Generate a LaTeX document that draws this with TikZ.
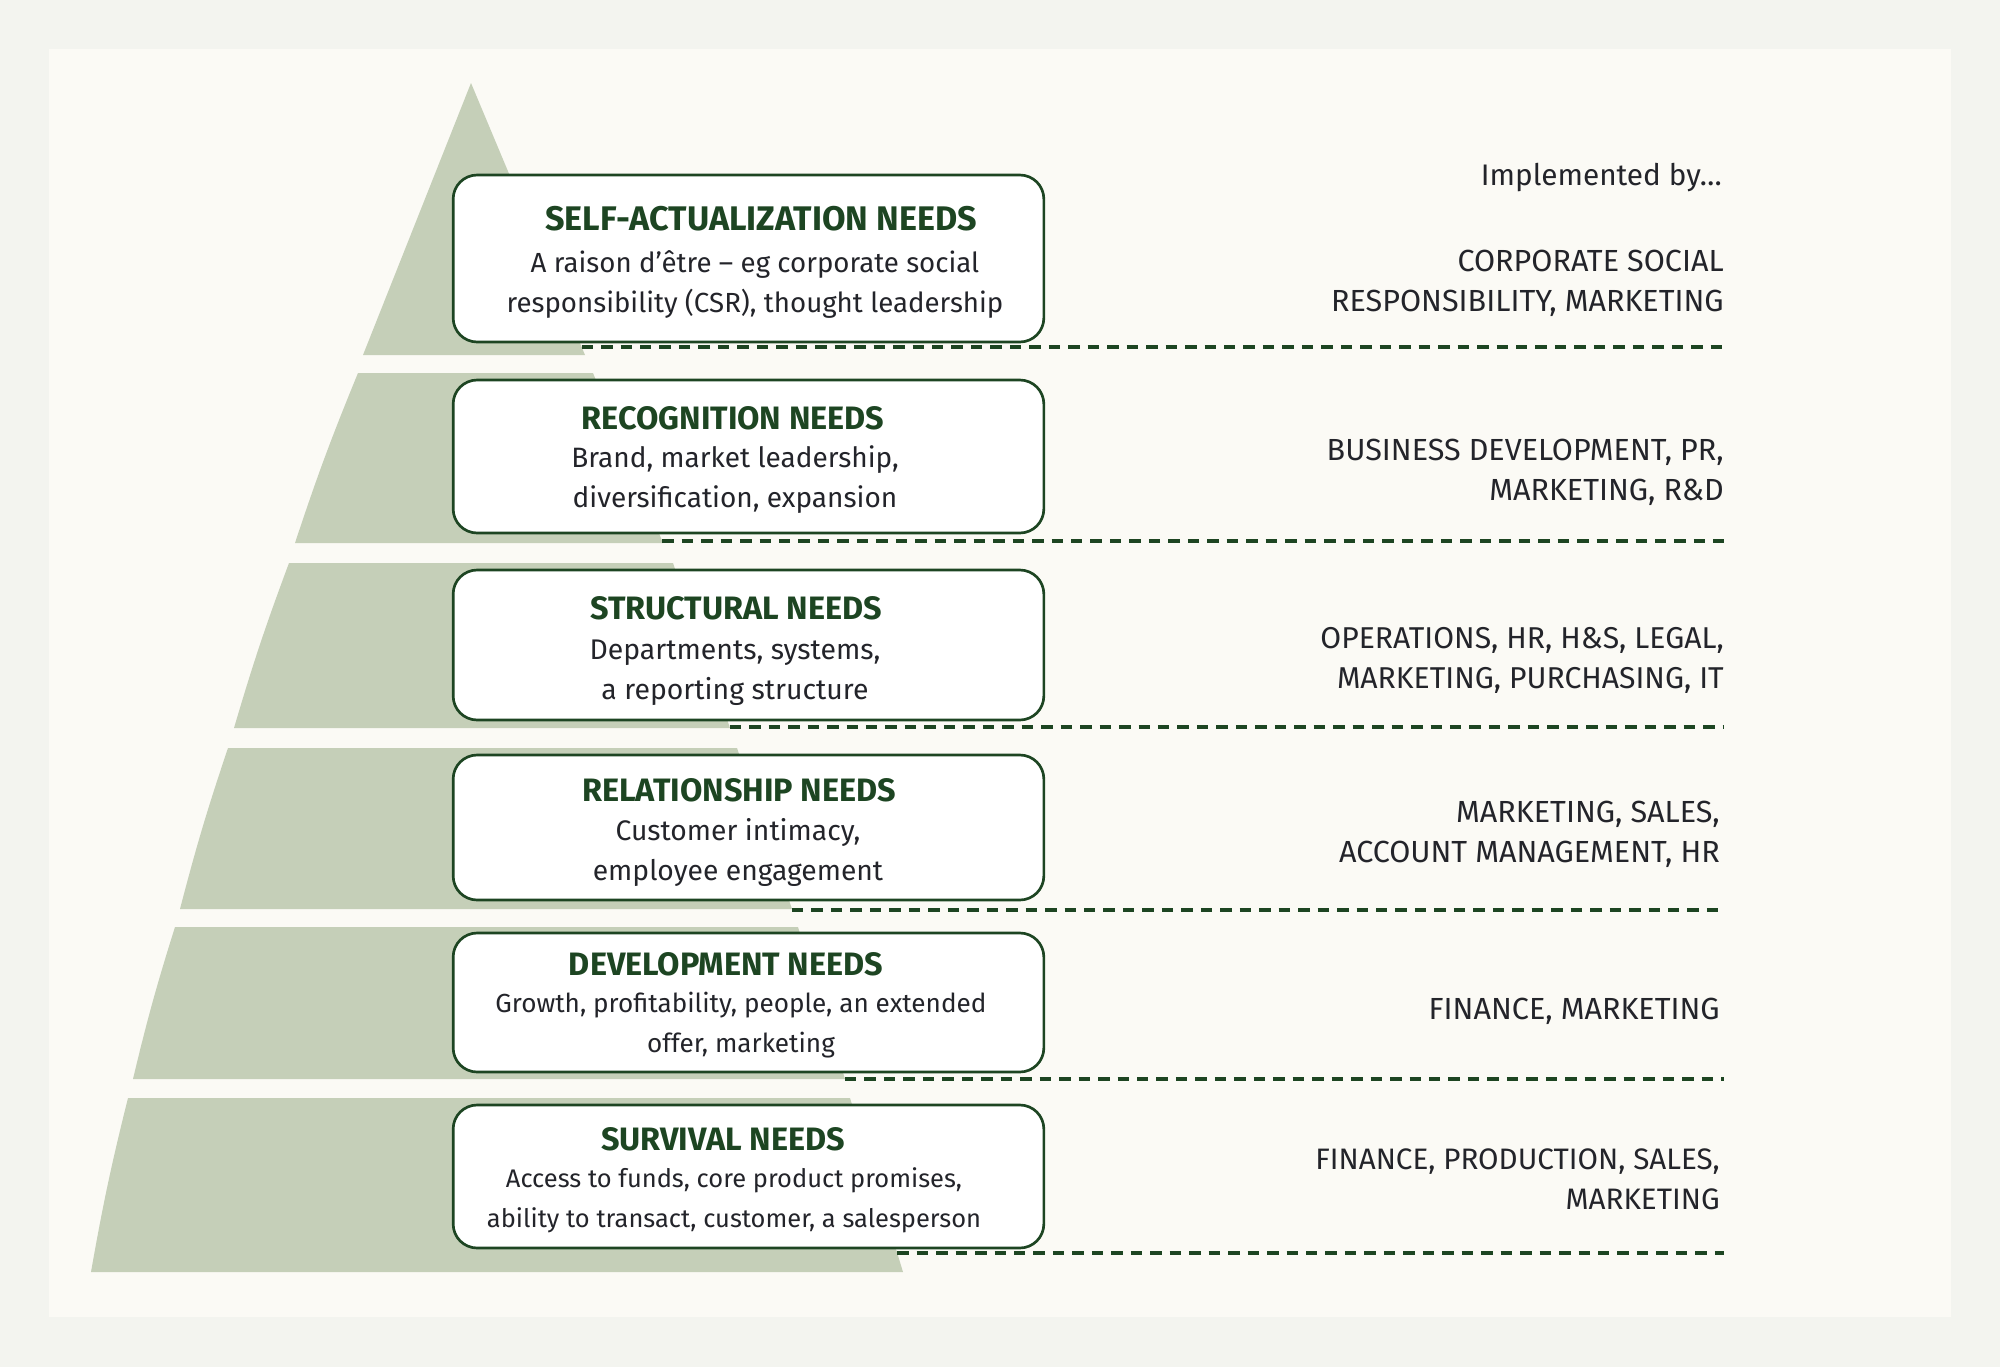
\documentclass[tikz,border=0pt]{standalone}
\usepackage{fontspec}
\setmainfont{Fira Sans}
\definecolor{outerbg}{HTML}{F3F4EF}
\definecolor{panelbg}{HTML}{FBFAF5}
\definecolor{layerfill}{HTML}{C5CFB8}
\definecolor{needgreen}{HTML}{1D4522}
\definecolor{bodyink}{HTML}{23242A}
\tikzset{
  layer/.style={fill=layerfill},
  guide/.style={draw=needgreen, line width=2.7pt, dash pattern=on 8.6pt off 6pt},
  needbox/.style={draw=needgreen, line width=2pt, fill=white, rounded corners=18pt,
    minimum width=443pt, inner sep=0pt},
  needtitle/.style={anchor=base, inner sep=0pt, text=needgreen,
    font=\bfseries\fontsize{#1}{28pt}\selectfont},
  needtitle/.default=24.3pt,
  needtext/.style={align=center, inner sep=0pt, text=bodyink,
    font=\fontsize{#1}{30pt}\selectfont},
  headnote/.style={anchor=base east, inner sep=0pt, text=bodyink,
    font=\fontsize{22.3pt}{30pt}\selectfont},
  implby/.style={align=right, anchor=east, inner sep=0pt, text=bodyink,
    font=\fontsize{#1}{30pt}\selectfont},
  implby/.default=22.9pt,
}
\begin{document}
\begin{tikzpicture}[x=0.75pt, y=-0.75pt]
  \useasboundingbox (0,0) rectangle (2000,1367);
  \fill[outerbg] (0,0) rectangle (2000,1367);
  \fill[panelbg] (49,49) rectangle (1951,1317);
  % pyramid layers
  \fill[layer] (471,83) -- (585,355) -- (363,355) -- cycle;
  \fill[layer] (358,373) -- (593,373) -- (663,543) -- (295,543) to[bend left=2] cycle;
  \fill[layer] (289,563) -- (673,563) -- (730,728) -- (234,728) to[bend left=2] cycle;
  \fill[layer] (228,748) -- (737,748) -- (792,909) -- (180,909) to[bend left=2] cycle;
  \fill[layer] (175,927) -- (798,927) -- (845,1079) -- (133,1079) to[bend left=2] cycle;
  \fill[layer] (128,1098) -- (850,1098) -- (903,1272) -- (91,1272) to[bend left=2] cycle;
  % guide lines from the layers to the right column
  \coordinate (selfedge) at (581.6,347);
  \coordinate (recogedge) at (662.2,541);
  \coordinate (structedge) at (729.7,727);
  \coordinate (relatedge) at (792,910);
  \coordinate (develedge) at (845,1079);
  \coordinate (survedge) at (897.2,1253);
  \coordinate (selfend) at (1724,347);
  \coordinate (recogend) at (1724,541);
  \coordinate (structend) at (1724,727);
  \coordinate (relatend) at (1724,910);
  \coordinate (develend) at (1724,1079);
  \coordinate (survend) at (1724,1253);
  \begin{scope}[guide]
    \draw (selfedge) -- (selfend);
    \draw (recogedge) -- (recogend);
    \draw (structedge) -- (structend);
    \draw (relatedge) -- (relatend);
    \draw (develedge) -- (develend);
    \draw (survedge) -- (survend);
  \end{scope}
  % need boxes
  \node[needbox, minimum height=125.25pt] (selfbox) at (748.5,258.5) {};
  \node[needbox, minimum height=114.75pt] (recogbox) at (748.5,456.5) {};
  \node[needbox, minimum height=112.5pt] (structbox) at (748.5,645) {};
  \node[needbox, minimum height=108.75pt] (relatbox) at (748.5,827.5) {};
  \node[needbox, minimum height=104.25pt] (develbox) at (748.5,1002.5) {};
  \node[needbox, minimum height=107.25pt] (survbox) at (748.5,1176.5) {};
  \node[needtitle=25.6pt] (selftitle) at (761,230.5) {SELF-ACTUALIZATION NEEDS};
  \node[needtitle] (recogtitle) at (733,429.5) {RECOGNITION NEEDS};
  \node[needtitle] (structtitle) at (736,619.5) {STRUCTURAL NEEDS};
  \node[needtitle] (relattitle) at (739,801) {RELATIONSHIP NEEDS};
  \node[needtitle] (develtitle) at (726,975.5) {DEVELOPMENT NEEDS};
  \node[needtitle] (survtitle) at (723,1150.5) {SURVIVAL NEEDS};
  \node[needtext=20.75pt] (selftext) at (755,284.6)
    {\strut A raison d’être – eg corporate social\\\strut responsibility (CSR), thought leadership};
  \node[needtext=21pt] (recogtext) at (735,479.8)
    {\strut Brand, market leadership,\\\strut diversification, expansion};
  \node[needtext=21.3pt] (structtext) at (735,671)
    {\strut Departments, systems,\\\strut a reporting structure};
  \node[needtext=21.2pt] (relattext) at (738,852)
    {\strut Customer intimacy,\\\strut employee engagement};
  \node[needtext=19.6pt] (develtext) at (741,1024)
    {\strut Growth, profitability, people, an extended\\\strut offer, marketing};
  \node[needtext=19.1pt] (survtext) at (734,1199)
    {\strut Access to funds, core product promises,\\\strut ability to transact, customer, a salesperson};
  % right column
  \node[headnote] (implhead) at (1722,185) {Implemented by…};
  \node[implby] (selfimpl) at (1724,283.7)
    {\strut CORPORATE SOCIAL\\\strut RESPONSIBILITY, MARKETING};
  \node[implby] (recogimpl) at (1724,472.5)
    {\strut BUSINESS DEVELOPMENT, PR,\\\strut MARKETING, R\&D};
  \node[implby=22.6pt] (structimpl) at (1724,660.3)
    {\strut OPERATIONS, HR, H\&S, LEGAL,\\\strut MARKETING, PURCHASING, IT};
  \node[implby] (relatimpl) at (1720,834.7)
    {\strut MARKETING, SALES,\\\strut ACCOUNT MANAGEMENT, HR};
  \node[implby] (develimpl) at (1720,1011)
    {\strut FINANCE, MARKETING};
  \node[implby=22.2pt] (survimpl) at (1720,1181)
    {\strut FINANCE, PRODUCTION, SALES,\\\strut MARKETING};
\end{tikzpicture}
\end{document}
